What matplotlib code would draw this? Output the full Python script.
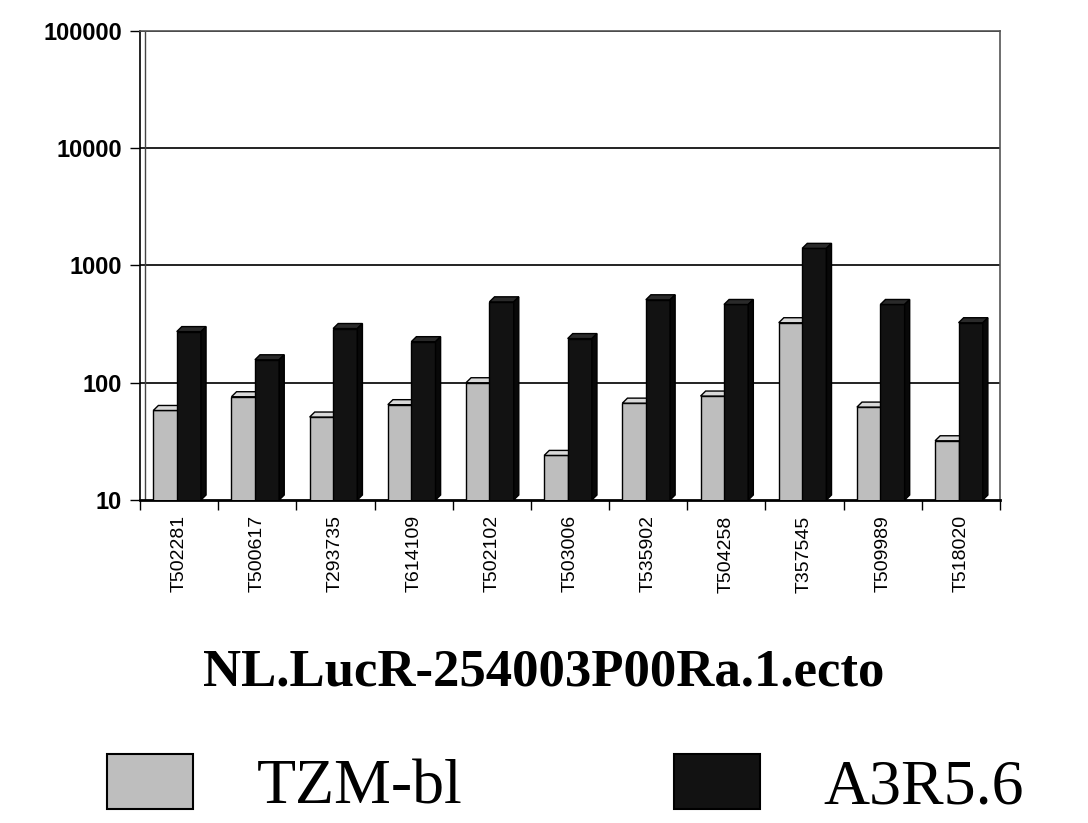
import matplotlib
matplotlib.use("Agg")
import matplotlib.pyplot as plt
from matplotlib.patches import Polygon, Patch
import numpy as np

categories = ["T502281", "T500617", "T293735", "T614109", "T502102", "T503006",
              "T535902", "T504258", "T357545", "T509989", "T518020"]
tzm_bl = [58, 76, 51, 65, 100, 24, 67, 77, 325, 62, 32]
a3r56 = [273, 157, 290, 224, 490, 238, 510, 465, 1400, 465, 325]
series_names = ["TZM-bl", "A3R5.6"]
ytick_vals = [10, 100, 1000, 10000, 100000]
title = "NL.LucR-254003P00Ra.1.ecto"

GRAY = "#bebebe"
BLACK = "#121212"

fig = plt.figure(figsize=(10.88, 8.23), dpi=100)
ax = fig.add_axes([140/1088, 1-500/823, 860/1088, 469/823])
ax.set_yscale("log")
ax.set_ylim(10, 100000)
ax.set_xlim(0, len(categories))

x = np.arange(len(categories))
w = 0.31
off_g = 0.17
off_b = 0.47
dx = 0.065
fy = 10 ** (5/117)

ax.bar(x + off_g, tzm_bl, width=w, align="edge", color=GRAY,
       edgecolor="black", linewidth=1.0, zorder=3)
ax.bar(x + off_b, a3r56, width=w, align="edge", color=BLACK,
       edgecolor="black", linewidth=1.0, zorder=4)

for i in range(len(categories)):
    # 3D caps
    xg = x[i] + off_g
    h = tzm_bl[i]
    ax.add_patch(Polygon([(xg, h), (xg + dx, h*fy), (xg + w + dx, h*fy), (xg + w, h)],
                         closed=True, facecolor="#d9d9d9", edgecolor="black", lw=1.0, zorder=3))
    xb = x[i] + off_b
    h = a3r56[i]
    ax.add_patch(Polygon([(xb, h), (xb + dx, h*fy), (xb + w + dx, h*fy), (xb + w, h)],
                         closed=True, facecolor="#2a2a2a", edgecolor="black", lw=1.0, zorder=4))
    ax.add_patch(Polygon([(xb + w, 10), (xb + w + dx, 10*fy), (xb + w + dx, h*fy), (xb + w, h)],
                         closed=True, facecolor="#080808", edgecolor="black", lw=1.0, zorder=4))

for v in ytick_vals[1:]:
    ax.axhline(v, color="#222222", lw=1.4, zorder=1)

ax.set_yticks(ytick_vals)
ax.set_yticklabels([str(v) for v in ytick_vals], fontsize=17, fontweight="bold",
                   family="Liberation Sans")
ax.yaxis.set_minor_locator(matplotlib.ticker.NullLocator())
ax.tick_params(axis="y", length=7, width=1, pad=6)

ax.set_xticks(x + 0.5)
ax.set_xticklabels(categories, rotation=90, fontsize=14, family="Liberation Sans")
ax.set_xticks(np.arange(len(categories) + 1), minor=True)
ax.tick_params(axis="x", which="major", length=0, pad=11)
ax.tick_params(axis="x", which="minor", length=7, width=1)

for s in ["top", "right"]:
    ax.spines[s].set_color("#555555")
    ax.spines[s].set_linewidth(1.2)
ax.spines["left"].set_linewidth(1.2)
ax.spines["bottom"].set_linewidth(2.0)
ax.axvline(0.07, color="#444444", lw=1.0, zorder=2)

fig.text(0.5, 1 - 672/823, title, ha="center", va="center", fontsize=38,
         fontweight="bold", family="Liberation Serif")

handles = [Patch(facecolor=GRAY, edgecolor="black", lw=1.5),
           Patch(facecolor=BLACK, edgecolor="black", lw=1.5)]
leg = fig.legend(handles, series_names, loc="center left",
                 bbox_to_anchor=(107/1088, 1 - 786/823), ncol=2, frameon=False,
                 prop={"family": "Liberation Serif", "size": 46},
                 handlelength=1.35, handleheight=0.95, handletextpad=1.0,
                 columnspacing=3.3, borderpad=0, borderaxespad=0)

fig.savefig("out.png", dpi=100, facecolor="white")
